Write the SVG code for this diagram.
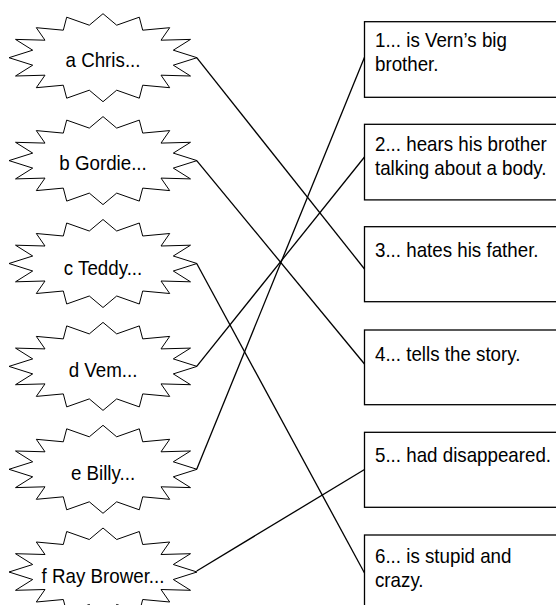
<svg xmlns="http://www.w3.org/2000/svg" width="556" height="605" viewBox="0 0 556 605">
<style>
.star{fill:#fff;stroke:#000;stroke-width:1;stroke-linejoin:miter}
.box{fill:#fff;stroke:#000;stroke-width:1.3}
.lbl{font-family:"Liberation Sans",Arial,sans-serif;font-size:20px;fill:#000}
.mid{text-anchor:middle}
.con line{stroke:#000;stroke-width:1.3}
</style>
<defs>
<polygon id="star" class="star" points="0,-44 13.7,-32.5 36.3,-40.5 39.7,-27.5 66.7,-30 58,-17.5 87.5,-18.3 70.3,-7.5 94,0 70.3,7.5 87.5,18.3 58,17.5 66.7,30 39.7,27.5 36.3,40.5 13.7,32.5 0,44 -13.7,32.5 -36.3,40.5 -39.7,27.5 -66.7,30 -58,17.5 -87.5,18.3 -70.3,7.5 -94,0 -70.3,-7.5 -87.5,-18.3 -58,-17.5 -66.7,-30 -39.7,-27.5 -36.3,-40.5 -13.7,-32.5"/>
</defs>
<rect width="556" height="605" fill="#fff"/>
<g id="star-a"><use href="#star" transform="translate(103,57.7)"/><text class="lbl mid" transform="scale(0.9375,1)" x="109.9" y="67">a Chris...</text></g>
<g id="star-b"><use href="#star" transform="translate(103,160.6)"/><text class="lbl mid" transform="scale(0.9375,1)" x="109.9" y="170">b Gordie...</text></g>
<g id="star-c"><use href="#star" transform="translate(103,263.5)"/><text class="lbl mid" transform="scale(0.9375,1)" x="109.9" y="275">c Teddy...</text></g>
<g id="star-d"><use href="#star" transform="translate(103,366.4)"/><text class="lbl mid" transform="scale(0.9375,1)" x="109.9" y="377">d Vem...</text></g>
<g id="star-e"><use href="#star" transform="translate(103,469.3)"/><text class="lbl mid" transform="scale(0.9375,1)" x="109.9" y="480">e Billy...</text></g>
<g id="star-f"><use href="#star" transform="translate(103,572)"/><text class="lbl mid" transform="scale(0.9375,1)" x="109.9" y="583">f Ray Brower...</text></g>
<g id="box-1"><rect class="box" x="364.5" y="21.7" width="200" height="75.6"/><text class="lbl" transform="scale(0.9375,1)" x="400" y="47">1... is Vern’s big</text><text class="lbl" transform="scale(0.9375,1)" x="400" y="71">brother.</text></g>
<g id="box-2"><rect class="box" x="364.5" y="124.3" width="200" height="75.6"/><text class="lbl" transform="scale(0.9375,1)" x="400" y="151">2... hears his brother</text><text class="lbl" transform="scale(0.9375,1)" x="400" y="175">talking about a body.</text></g>
<g id="box-3"><rect class="box" x="364.5" y="226.7" width="200" height="75"/><text class="lbl" transform="scale(0.9375,1)" x="400" y="257">3... hates his father.</text></g>
<g id="box-4"><rect class="box" x="364.5" y="330" width="200" height="74.7"/><text class="lbl" transform="scale(0.9375,1)" x="400" y="361">4... tells the story.</text></g>
<g id="box-5"><rect class="box" x="364.5" y="432.3" width="200" height="75"/><text class="lbl" transform="scale(0.9375,1)" x="400" y="462">5... had disappeared.</text></g>
<g id="box-6"><rect class="box" x="364.5" y="535" width="200" height="75"/><text class="lbl" transform="scale(0.9375,1)" x="400" y="563">6... is stupid and</text><text class="lbl" transform="scale(0.9375,1)" x="400" y="587">crazy.</text></g>
<g id="connectors" class="con">
<line x1="196.7" y1="57.7" x2="364.5" y2="269"/>
<line x1="196.7" y1="160.6" x2="364.5" y2="364"/>
<line x1="196.7" y1="263.5" x2="364.5" y2="573"/>
<line x1="196.7" y1="366.4" x2="364.5" y2="157"/>
<line x1="196.7" y1="469.3" x2="364.5" y2="57.3"/>
<line x1="196.7" y1="571" x2="364.5" y2="469.5"/>
</g>
</svg>
